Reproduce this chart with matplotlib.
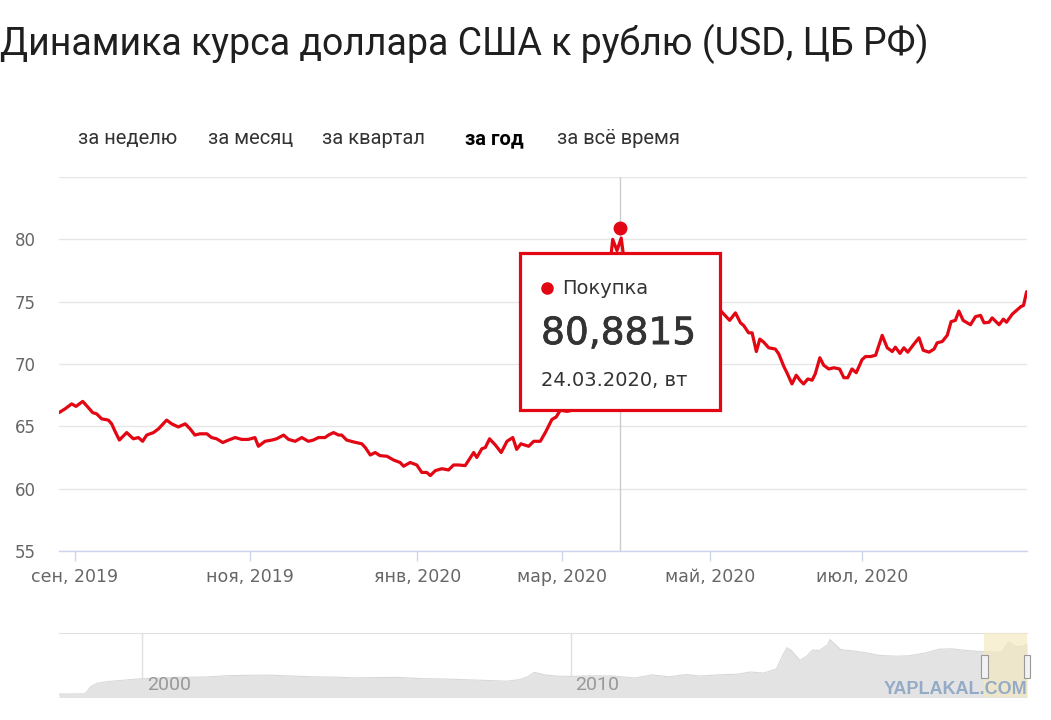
import matplotlib
matplotlib.use('Agg')
import matplotlib.pyplot as plt
from matplotlib.patches import Rectangle
import matplotlib.transforms as mtransforms
import matplotlib.patheffects as pe
from matplotlib import font_manager

# ---------------- data ----------------
trade_day = [0, 1.55, 3.27, 4.39, 6.12, 7.58, 8.7, 9.73, 11.02, 12.75, 13.6, 14.47, 15.59, 17.48,
             19.2, 20.5, 21.6, 22.65, 24.4, 25.7, 27.8, 29.1, 30.8, 32.6, 33.85, 35.1, 36.4, 38.2,
             39.4, 40.7, 42.3, 43.8, 45.5, 47.2, 48.9, 50.6, 51.5, 53.2, 55.0, 56.2, 58.0, 59.3,
             61.0, 62.7, 64.4, 65.7, 67.0, 68.7, 69.6, 70.9, 72.2, 73.0, 74.3, 76.05, 78.2, 79.1,
             80.4, 81.65, 82.9, 84.7, 86.4, 88.1, 89.0, 90.7, 92.4, 93.7, 95.0, 95.9, 97.2, 98.9,
             100.6, 101.9, 103.2, 104.9, 107.1, 107.9, 109.2, 110.1, 111.2, 112.7, 114.2, 115.7,
             117.2, 118.2, 119.3, 121.3, 122.6, 124.3, 125.6, 127.3, 128.4, 129.5, 131.2, 132.7,
             134, 135, 136, 137, 138, 139, 140, 141, 142.0, 143.0, 144.1, 145.2, 146.3, 148, 150,
             152, 154, 156, 158, 160, 163, 166, 168.5, 170.8, 171.7, 173.2, 174.7, 176.0, 176.8,
             178.1, 179.0, 180.1, 181.0, 182.0, 183.3, 185.0, 185.9, 187.2, 188.0, 189.3, 190.4,
             191.5, 192.3, 193.4, 194.5, 195.3, 196.5, 197.5, 198.8, 200.1, 201.6, 202.7, 203.7,
             204.8, 205.9, 207.4, 208.3, 209.6, 210.9, 212.6, 213.9, 215.2, 216.0, 217.2, 218.2,
             219.2, 220.8, 222.1, 223.2, 224.7, 226.0, 226.8, 228.1, 229.4, 230.4, 231.5, 232.4,
             233.5, 235.4, 236.7, 238.0, 238.9, 240.2, 241.0, 242.8, 243.9, 244.7, 246.2, 247.1,
             248.4, 249.1, 249.9]
usd_rub = [66.1, 66.4, 66.8, 66.6, 67.0, 66.5, 66.1, 66.0, 65.6, 65.5, 65.2, 64.6, 63.9, 64.5,
           64.0, 64.1, 63.8, 64.3, 64.5, 64.8, 65.5, 65.2, 64.95, 65.2, 64.8, 64.3, 64.4, 64.4,
           64.1, 64.0, 63.7, 63.9, 64.1, 63.95, 63.95, 64.1, 63.4, 63.8, 63.9, 64.0, 64.3, 63.95,
           63.8, 64.1, 63.8, 63.9, 64.1, 64.1, 64.3, 64.5, 64.3, 64.3, 63.9, 63.75, 63.6, 63.3,
           62.7, 62.9, 62.65, 62.6, 62.3, 62.1, 61.8, 62.1, 61.9, 61.3, 61.3, 61.05, 61.45, 61.6,
           61.5, 61.9, 61.9, 61.85, 62.9, 62.5, 63.2, 63.3, 64.0, 63.5, 62.9, 63.8,
           64.1, 63.15, 63.6, 63.4, 63.8, 63.8, 64.5, 65.55, 65.75, 66.3, 66.2, 66.3,
           66.9, 67.6, 72.0, 71.8, 73.9, 73.6, 74.1, 73.2, 77.0, 80.0, 79.1, 80.1, 77.5, 78.5, 77.7,
           78.0, 76.9, 75.5, 74.0, 74.6, 73.9, 74.5, 74.8, 74.3, 74.0, 73.5, 74.1, 73.3, 73.1,
           72.5, 72.5, 71.0, 72.0, 71.75, 71.3, 71.2, 70.8, 69.8, 69.3, 68.4, 69.1,
           68.65, 68.4, 68.8, 68.7, 69.2, 70.5, 69.9, 69.6, 69.7, 69.6, 68.9, 68.9,
           69.6, 69.3, 70.35, 70.6, 70.6, 70.7, 72.3, 71.3, 71.0, 71.35, 70.85, 71.3,
           70.95, 71.6, 72.1, 71.1, 70.95, 71.2, 71.7, 71.8, 72.3, 73.4, 73.5, 74.25,
           73.5, 73.15, 73.8, 73.9, 73.3, 73.35, 73.7, 73.15, 73.6, 73.35, 74.0, 74.25,
           74.6, 74.7, 75.8]

month_tick_pos = [4.1, 49.4, 92.5, 130.0, 168.2, 207.5]
month_tick_labels = ['сен, 2019', 'ноя, 2019', 'янв, 2020', 'мар, 2020', 'май, 2020', 'июл, 2020']
y_ticks = [55, 60, 65, 70, 75, 80, 85]
y_tick_labels = ['55', '60', '65', '70', '75', '80', '']

tooltip_day = 145.0
tooltip_value = 80.8815
tooltip_series = 'Покупка'
tooltip_value_text = '80,8815'
tooltip_date = '24.03.2020, вт'

title_text = 'Динамика курса доллара США к рублю (USD, ЦБ РФ)'
periods = ['за неделю', 'за месяц', 'за квартал', 'за год', 'за всё время']
active_period = 'за год'

nav_year = [1998.06, 1998.55, 1998.65, 1998.72, 1998.8, 1998.95, 1999.2, 1999.5, 1999.9, 2000.5,
            2001.0, 2001.5, 2002.0, 2002.5, 2003.0, 2003.5, 2004.0, 2004.5, 2005.0, 2005.5,
            2006.0, 2006.5, 2007.0, 2007.5, 2008.0, 2008.5, 2008.8, 2009.0, 2009.15, 2009.4,
            2009.7, 2010.0, 2010.5, 2011.0, 2011.5, 2011.9, 2012.3, 2012.7, 2013.0, 2013.5,
            2013.9, 2014.2, 2014.5, 2014.8, 2014.96, 2015.05, 2015.15, 2015.35, 2015.5, 2015.65,
            2015.8, 2016.0, 2016.05, 2016.3, 2016.6, 2016.9, 2017.2, 2017.6, 2017.9, 2018.3,
            2018.6, 2018.9, 2019.1, 2019.5, 2019.8, 2020.05, 2020.23, 2020.4, 2020.55, 2020.65]
nav_rate = [6.0, 6.2, 6.3, 9.5, 16.0, 20.6, 23.0, 24.5, 26.5, 28.2,
            28.8, 29.2, 31.0, 31.5, 31.7, 30.5, 29.4, 29.0, 27.9, 28.5,
            28.6, 27.0, 26.5, 25.6, 24.6, 23.5, 25.5, 29.5, 35.5, 32.0,
            30.3, 30.0, 30.8, 30.5, 27.8, 32.0, 29.5, 32.5, 30.5, 32.2,
            33.0, 36.0, 34.5, 40.0, 60.0, 69.0, 65.0, 52.0, 57.0, 66.0,
            65.0, 73.0, 80.0, 66.5, 64.5, 62.0, 58.5, 57.5, 58.0, 62.0,
            67.0, 67.5, 66.0, 64.0, 63.5, 62.5, 77.0, 70.5, 71.0, 74.5]
nav_ticks = [2000, 2010]
nav_window = (2019.65, 2020.65)
watermark = 'YAPLAKAL.COM'

# ---------------- style ----------------
RED = '#e30613'
W, H = 1051, 720
available = {f.name for f in font_manager.fontManager.ttflist}
ui_font = ['Roboto', 'DejaVu Sans'] if 'Roboto' in available else ['DejaVu Sans']
chart_font = ['DejaVu Sans']

plt.rcParams['font.family'] = chart_font

fig = plt.figure(figsize=(W / 100, H / 100), dpi=100)
fig.patch.set_facecolor('white')

def fx(px):
    return px / W

def fy(py):
    return 1 - py / H

# title
fig.text(fx(0), fy(55), title_text, ha='left', va='baseline', fontsize=27,
         color='#1f1f1f', family=ui_font, fontweight='normal')

# period selector
period_left = [78, 208, 322, 465, 557]
for lab, xl in zip(periods, period_left):
    active = lab == active_period
    fig.text(fx(xl), fy(144), lab, ha='left', va='baseline', fontsize=14.5,
             color='#000000' if active else '#333333',
             fontweight='bold' if active else 'normal', family=ui_font)

# ---------------- main chart ----------------
ax = fig.add_axes([fx(59), fy(551), fx(968), 374 / H])
ax.plot(trade_day, usd_rub, color=RED, lw=2.3, solid_joinstyle='round',
        solid_capstyle='round', zorder=3)
ax.set_xlim(0, 250)
ax.set_ylim(55, 85)
for s in ['top', 'right', 'left']:
    ax.spines[s].set_visible(False)
ax.spines['bottom'].set_color('#ccd6eb')
ax.spines['bottom'].set_linewidth(1)
ax.set_yticks(y_ticks)
ax.set_yticklabels(y_tick_labels)
ax.yaxis.grid(True, color='#e6e6e6', lw=1)
ax.set_axisbelow(True)
ax.tick_params(axis='y', length=0, pad=17, labelsize=12, labelcolor='#666666')
ax.set_xticks(month_tick_pos)
ax.set_xticklabels(month_tick_labels)
ax.tick_params(axis='x', length=7, width=1, color='#ccd6eb', pad=5, labelsize=12.5,
               labelcolor='#666666')

# crosshair + hovered point
ax.axvline(tooltip_day, color='#cccccc', lw=1, zorder=2)
ax.plot([tooltip_day], [tooltip_value], 'o', ms=9, color=RED, zorder=6, clip_on=False)

# tooltip
ax.add_patch(Rectangle((0.4762, 0.377), 0.2066, 0.4198, transform=ax.transAxes,
                       fc='white', ec=RED, lw=2.3, zorder=5))
ax.plot([0.504], [0.703], 'o', ms=8, color=RED, transform=ax.transAxes, zorder=7)
ax.text(0.5196, 0.703, tooltip_series, transform=ax.transAxes, ha='left', va='center',
        fontsize=14, color='#333333', zorder=7)
ax.text(0.498, 0.580, tooltip_value_text, transform=ax.transAxes, ha='left', va='center',
        fontsize=27, color='#333333', zorder=7,
        path_effects=[pe.withStroke(linewidth=0.5, foreground='#333333')])
ax.text(0.498, 0.457, tooltip_date, transform=ax.transAxes, ha='left', va='center',
        fontsize=14, color='#333333', zorder=7)

# ---------------- navigator ----------------
nav = fig.add_axes([fx(59), fy(697), fx(968), 64 / H])
nav.fill_between(nav_year, nav_rate, 0, color='#e3e3e3', lw=0, zorder=2)
nav.plot(nav_year, nav_rate, color='#d8d8d8', lw=0.8, zorder=2)
nav.set_xlim(1998.06, 2020.65)
nav.set_ylim(2, 89)
nav.set_xticks([])
nav.set_yticks([])
for s in ['bottom', 'right', 'left']:
    nav.spines[s].set_visible(False)
nav.spines['top'].set_color('#e0e0e0')
for yr in nav_ticks:
    nav.axvline(yr, color='#e0e0e0', lw=1, zorder=1)
    nav.annotate(str(yr), xy=(yr, 0), xycoords=('data', 'axes fraction'),
                 xytext=(3.5, 2.5), textcoords='offset points', ha='left', va='bottom',
                 fontsize=14, color='#999999', family=ui_font, zorder=3)
nav.axvspan(nav_window[0], nav_window[1], color='#f4e9bd', alpha=0.65, lw=0, zorder=3)
blend = mtransforms.blended_transform_factory(nav.transData, nav.transAxes)
hw = 0.16
for edge in nav_window:
    nav.add_patch(Rectangle((edge - hw / 2, 0.3), hw, 0.36, transform=blend,
                            fc='#f2f2f2', ec='#999999', lw=0.8, zorder=4, clip_on=False))
fig.text(fx(1027), fy(690), watermark, ha='right', va='center', fontsize=13,
         fontweight='bold', color='#93abc6', family=['Liberation Sans', 'DejaVu Sans'])

fig.savefig('out.png', dpi=100, facecolor='white')
